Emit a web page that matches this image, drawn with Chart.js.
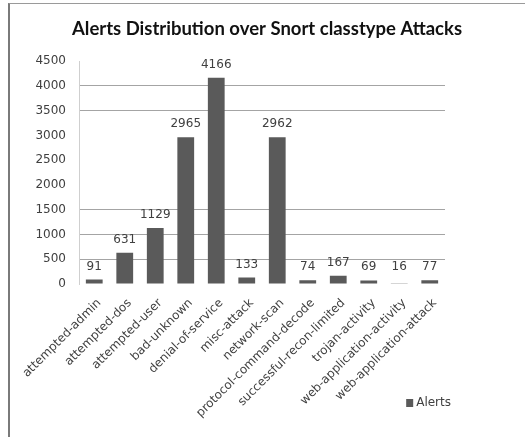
<!DOCTYPE html>
<html>
<head>
<meta charset="utf-8">
<script src="https://cdn.jsdelivr.net/npm/chart.js@4"></script>
<style>
  body { margin: 0; background: #fff; }
  #wrap { position: relative; width: 525px; height: 437px; }
  #frame {
    position: absolute; left: 8px; top: 3px; right: 0; bottom: 0;
    border-top: 1px solid #9a9a9a; border-left: 2px solid #7a7a7a;
  }
  canvas { position: absolute; left: 0; top: 0; }
</style>
</head>
<body>
<div id="wrap">
  <div id="frame"></div>
  <canvas id="chartAlerts" width="525" height="437"></canvas>
</div>
<script>
// Settings
const chartTitle = "Alerts Distribution over Snort classtype Attacks";
const seriesLabel = "Alerts";
const classtypes = [
  "attempted-admin",
  "attempted-dos",
  "attempted-user",
  "bad-unknown",
  "denial-of-service",
  "misc-attack",
  "network-scan",
  "protocol-command-decode",
  "successful-recon-limited",
  "trojan-activity",
  "web-application-activity",
  "web-application-attack",
];
const alertCounts = [91, 631, 1129, 2965, 4166, 133, 2962, 74, 167, 69, 16, 77];
const yTicks = [0, 500, 1000, 1500, 2000, 2500, 3000, 3500, 4000, 4500];
const visibleGridLines = [500, 1000, 1500, 3500, 4000]; // the rest are faded out in the scan

const barColor = "#5a5a5a";
const textColor = "#404040";
const tickFont = { family: "DejaVu Sans", size: 12 };

// draws the value above every bar
const valueLabels = {
  id: "valueLabels",
  afterDatasetsDraw(chart) {
    const ctx = chart.ctx;
    const meta = chart.getDatasetMeta(0);
    const base = chart.scales.y.getPixelForValue(0);
    ctx.save();
    ctx.font = "12px 'DejaVu Sans'";
    ctx.fillStyle = textColor;
    ctx.textAlign = "center";
    ctx.textBaseline = "middle";
    meta.data.forEach((bar, i) => {
      const top = Math.min(bar.y, base - 4);
      ctx.fillText(String(alertCounts[i]), bar.x, top - 13);
    });
    ctx.restore();
  },
};

// legend sits low on the right, over the rotated labels, so draw it by hand
const cornerLegend = {
  id: "cornerLegend",
  afterDraw(chart) {
    const ctx = chart.ctx;
    const ds = chart.data.datasets[0];
    const right = chart.chartArea.right + 6;
    const y = chart.height - 34;
    ctx.save();
    ctx.font = "12px 'DejaVu Sans'";
    ctx.textBaseline = "middle";
    ctx.textAlign = "right";
    ctx.fillStyle = textColor;
    ctx.fillText(ds.label, right, y);
    const w = ctx.measureText(ds.label).width;
    ctx.fillStyle = ds.backgroundColor;
    ctx.fillRect(right - w - 10, y - 4, 7, 8);
    ctx.restore();
  },
};

const ctx = document.getElementById("chartAlerts").getContext("2d");
new Chart(ctx, {
  type: "bar",
  data: {
    labels: classtypes,
    datasets: [
      {
        label: seriesLabel,
        data: alertCounts,
        backgroundColor: barColor,
        borderWidth: 0,
        barPercentage: 0.55,
        categoryPercentage: 1.0,
      },
    ],
  },
  options: {
    responsive: false,
    animation: false,
    layout: { padding: { left: 9, right: 0, top: 0, bottom: 0 } },
    plugins: {
      title: {
        display: true,
        text: chartTitle,
        color: "#111",
        font: { family: "Lato", size: 18.5, weight: "bold" },
        padding: { top: 18, bottom: 21 },
      },
      legend: { display: false },
      tooltip: { enabled: false },
    },
    scales: {
      y: {
        min: 0,
        max: 4500,
        afterFit: (scale) => { scale.width = 70; },
        afterBuildTicks: (scale) => { scale.ticks = yTicks.map((v) => ({ value: v })); },
        ticks: { color: textColor, font: tickFont, padding: 13, callback: (v) => String(v) },
        grid: {
          drawTicks: false,
          color: (c) => (visibleGridLines.includes(c.tick && c.tick.value) ? "#a4a4a4" : "rgba(0,0,0,0)"),
        },
        border: { color: "#cfcfcf" },
      },
      // empty right axis, only keeps the plot clear of the right side
      yRight: {
        position: "right",
        min: 0,
        max: 4500,
        afterFit: (scale) => { scale.width = 80; },
        ticks: { display: false },
        grid: { display: false },
        border: { display: false },
      },
      x: {
        afterFit: (scale) => { scale.height = 153; },
        ticks: {
          color: textColor,
          font: tickFont,
          minRotation: 45,
          maxRotation: 45,
          autoSkip: false,
          padding: 4,
          labelOffset: 5,
        },
        grid: { display: false },
        border: { display: false },
      },
    },
  },
  plugins: [valueLabels, cornerLegend],
});
</script>
</body>
</html>
